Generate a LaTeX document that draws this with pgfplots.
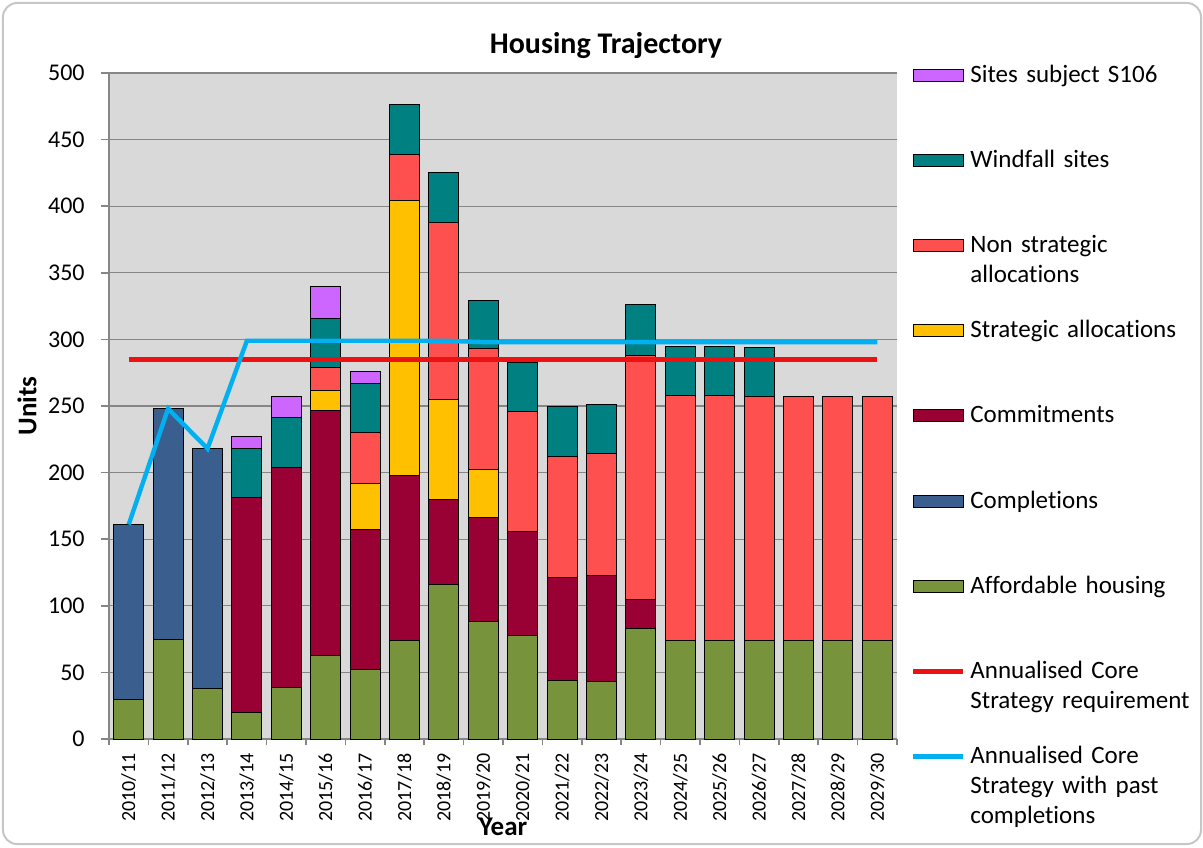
\documentclass[border=0pt]{standalone}
\usepackage{pgfplots}
\pgfplotsset{compat=1.18}
\usepackage{pgfplotstable}
\usepackage{fontspec}
\setmainfont{Carlito}[Ligatures={NoCommon,NoContextual}]

\definecolor{cAff}{HTML}{77933C}
\definecolor{cComp}{HTML}{3A5F8F}
\definecolor{cCommit}{HTML}{990033}
\definecolor{cStrat}{HTML}{FFC000}
\definecolor{cNon}{HTML}{FF5050}
\definecolor{cWind}{HTML}{008080}
\definecolor{cS106}{HTML}{CC66FF}
\definecolor{cReq}{HTML}{EE1111}
\definecolor{cPast}{HTML}{00B0F0}
\definecolor{bggray}{HTML}{D9D9D9}
\definecolor{gridgray}{HTML}{868686}
\definecolor{axisgray}{HTML}{868686}

\pgfplotstableread{
x aff comp commit strat nonstrat wind s106 req past
0 30 131 0 0 0 0 0 285 161
1 75 173 0 0 0 0 0 285 248
2 38 180 0 0 0 0 0 285 218
3 20 0 161 0 0 37 9 285 299
4 39 0 165 0 0 37 16 285 299
5 63 0 184 15 17 37 24 285 299
6 52 0 105 35 38 37 9 285 299
7 74 0 124 206 35 37 0 285 299
8 116 0 64 75 133 37 0 285 299
9 88 0 78 36 91 36 0 285 298
10 78 0 78 0 90 37 0 285 298
11 44 0 77 0 91 38 0 285 298
12 43 0 80 0 91 37 0 285 298
13 83 0 22 0 183 38 0 285 298
14 74 0 0 0 184 37 0 285 298
15 74 0 0 0 184 37 0 285 298
16 74 0 0 0 183 37 0 285 298
17 74 0 0 0 183 0 0 285 298
18 74 0 0 0 183 0 0 285 298
19 74 0 0 0 183 0 0 285 298
}\datatable

\begin{document}
\begin{tikzpicture}
\begin{axis}[
  scale only axis, width=394pt, height=333pt,
  xmin=-0.5, xmax=19.5, ymin=0, ymax=500,
  ybar stacked, bar width=15pt,
  axis background/.style={fill=bggray},
  axis x line=bottom, axis y line=left,
  axis line style={-, draw=axisgray, line width=0.8pt},
  ytick={0,50,...,500},
  xtick={0,...,19},
  xticklabels={2010/11,2011/12,2012/13,2013/14,2014/15,2015/16,2016/17,2017/18,2018/19,2019/20,2020/21,2021/22,2022/23,2023/24,2024/25,2025/26,2026/27,2027/28,2028/29,2029/30},
  minor xtick={-0.5,0.5,...,19.5},
  tick align=outside,
  major tick length=4pt, minor tick length=3pt,
  every major x tick/.append style={draw=none},
  every minor x tick/.append style={draw=axisgray, line width=0.8pt},
  every major y tick/.append style={draw=axisgray, line width=0.8pt},
  ymajorgrids, major grid style={draw=gridgray, line width=0.6pt},
  /pgf/number format/assume math mode=true,
  yticklabel style={font=\fontsize{12}{14}\selectfont, anchor=east, inner sep=0pt, xshift=-8pt},
  xticklabel style={font=\fontsize{10}{12}\selectfont, rotate=90, anchor=east, inner sep=0pt, xshift=-3pt},
  title={Housing Trajectory},
  title style={at={([xshift=248.5pt,yshift=7.5pt]rel axis cs:0,1)}, anchor=center, font=\bfseries\fontsize{15}{17}\selectfont, inner sep=0pt},
  ylabel={Units},
  ylabel style={at={([xshift=-41pt]rel axis cs:0,0.5)}, anchor=center, rotate=0, font=\bfseries\fontsize{13.5}{16}\selectfont, inner sep=0pt},
  xlabel={Year},
  xlabel style={at={([yshift=-44pt]rel axis cs:0.5,0)}, anchor=center, font=\bfseries\fontsize{13.5}{16}\selectfont, inner sep=0pt},
  legend cell align=left,
  legend style={at={([xshift=7pt,yshift=4.5pt]rel axis cs:1,1)}, anchor=north west,
    draw=none, fill=none, inner sep=0pt, outer sep=0pt,
    column sep=2.5pt, row sep=3.6pt,
    cells={anchor=base west},
    font=\fontsize{12.5}{15}\selectfont,
    nodes={text height=9pt, text depth=30pt, inner sep=0pt, text width=130pt, align=left}},
]
\addlegendimage{legend image code/.code={\draw[fill=cS106, draw=black, line width=0.5pt] (0pt,0.5pt) rectangle (25pt,6.5pt);}}
\addlegendentry{Sites subject S106}
\addlegendimage{legend image code/.code={\draw[fill=cWind, draw=black, line width=0.5pt] (0pt,0.5pt) rectangle (25pt,6.5pt);}}
\addlegendentry{Windfall sites}
\addlegendimage{legend image code/.code={\draw[fill=cNon, draw=black, line width=0.5pt] (0pt,0.5pt) rectangle (25pt,6.5pt);}}
\addlegendentry{Non strategic\\allocations}
\addlegendimage{legend image code/.code={\draw[fill=cStrat, draw=black, line width=0.5pt] (0pt,0.5pt) rectangle (25pt,6.5pt);}}
\addlegendentry{Strategic allocations}
\addlegendimage{legend image code/.code={\draw[fill=cCommit, draw=black, line width=0.5pt] (0pt,0.5pt) rectangle (25pt,6.5pt);}}
\addlegendentry{Commitments}
\addlegendimage{legend image code/.code={\draw[fill=cComp, draw=black, line width=0.5pt] (0pt,0.5pt) rectangle (25pt,6.5pt);}}
\addlegendentry{Completions}
\addlegendimage{legend image code/.code={\draw[fill=cAff, draw=black, line width=0.5pt] (0pt,0.5pt) rectangle (25pt,6.5pt);}}
\addlegendentry{Affordable housing}
\addlegendimage{legend image code/.code={\draw[draw=cReq, fill=none, line width=2.2pt] (0pt,3.5pt) -- (25pt,3.5pt);}}
\addlegendentry{Annualised Core\\Strategy requirement}
\addlegendimage{legend image code/.code={\draw[draw=cPast, fill=none, line width=2.2pt] (0pt,3.5pt) -- (25pt,3.5pt);}}
\addlegendentry{Annualised Core\\Strategy with past\\completions}

\addplot[forget plot, fill=cAff, draw=black, line width=0.5pt] table[x=x, y=aff] {\datatable};
\addplot[forget plot, fill=cComp, draw=black, line width=0.5pt] table[x=x, y=comp] {\datatable};
\addplot[forget plot, fill=cCommit, draw=black, line width=0.5pt] table[x=x, y=commit] {\datatable};
\addplot[forget plot, fill=cStrat, draw=black, line width=0.5pt] table[x=x, y=strat] {\datatable};
\addplot[forget plot, fill=cNon, draw=black, line width=0.5pt] table[x=x, y=nonstrat] {\datatable};
\addplot[forget plot, fill=cWind, draw=black, line width=0.5pt] table[x=x, y=wind] {\datatable};
\addplot[forget plot, fill=cS106, draw=black, line width=0.5pt] table[x=x, y=s106] {\datatable};
\end{axis}
\begin{axis}[
  scale only axis, width=394pt, height=333pt,
  xmin=-0.5, xmax=19.5, ymin=0, ymax=500,
  hide axis,
]
\addplot[draw=cReq, line width=2.2pt, no marks, sharp plot] table[x=x, y=req] {\datatable};
\addplot[draw=cPast, line width=2.2pt, no marks, sharp plot, line join=miter] table[x=x, y=past] {\datatable};
\end{axis}
\pgfresetboundingbox
\draw[rounded corners=7pt, draw=gray!45, line width=1pt] (-53pt,-52.5pt) rectangle (546pt,368pt);
\path[use as bounding box] (-54.5pt,-54pt) rectangle (547pt,369.5pt);
\end{tikzpicture}
\end{document}
